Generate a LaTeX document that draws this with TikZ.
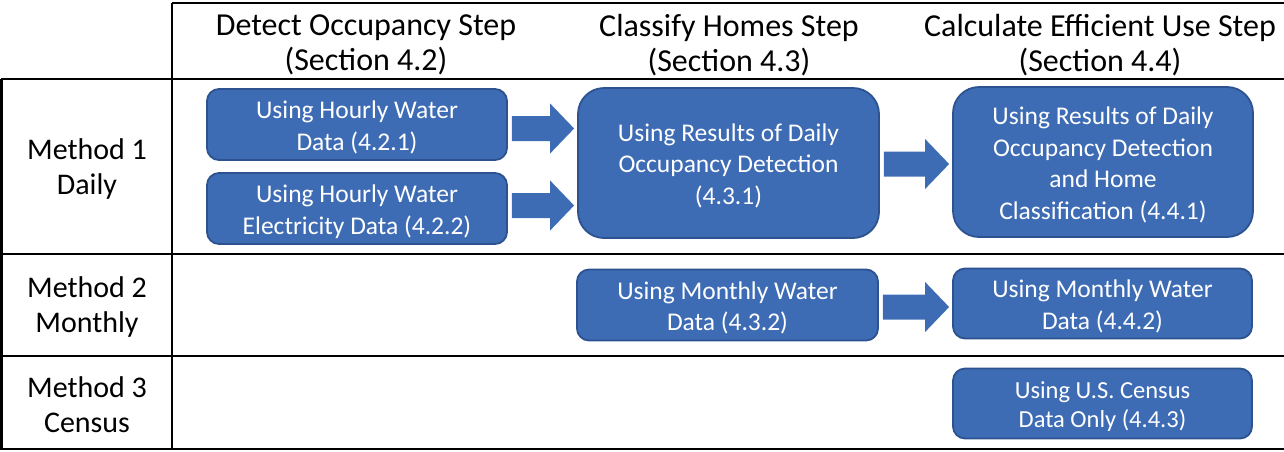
\documentclass[tikz,border=0pt]{standalone}
\usepackage{fontspec}
\setmainfont{Carlito}
\usetikzlibrary{calc}
\definecolor{boxfill}{HTML}{3D6CB5}
\definecolor{boxline}{HTML}{2C5290}
\newcommand\lowtext[1]{\raisebox{-3.5pt}[\height][\depth]{\begin{tabular}{@{}c@{}}#1\end{tabular}}}
\tikzset{
  grid/.style={line width=2.6pt, black},
  box/.style={draw=boxline, line width=1.8pt, fill=boxfill, text=white, align=center,
    rounded corners=12pt, inner sep=0pt, font=\fontsize{25.5}{31.5}\selectfont},
  bigbox/.style={box, rounded corners=26pt},
  head/.style={align=center, font=\fontsize{32}{35}\selectfont},
  rowlab/.style={align=center, font=\fontsize{30}{35}\selectfont},
  arrowfill/.style={fill=boxfill}
}
\newcommand\blockarrow[3]{%
  \fill[arrowfill] let \p1=(#1.east), \p2=(#2.west) in
    ({\x1+4pt},{\y1-(#3)+12.5pt}) -- ({\x2-27pt},{\y1-(#3)+12.5pt}) --
    ({\x2-27pt},{\y1-(#3)+25pt}) -- ({\x2-3pt},{\y1-(#3)}) --
    ({\x2-27pt},{\y1-(#3)-25pt}) -- ({\x2-27pt},{\y1-(#3)-12.5pt}) --
    ({\x1+4pt},{\y1-(#3)-12.5pt}) -- cycle;}
\begin{document}
\begin{tikzpicture}[x=1pt,y=-1pt]
\useasboundingbox (0,0) rectangle (1284,451);
% table lines
\draw[grid] (172,3) -- (1284,3);
\draw[grid] (172,3) -- (172,449);
\draw[grid] (1.3,79) -- (1284,79);
\draw[grid] (1.3,254) -- (1284,254);
\draw[grid] (1.3,356) -- (1284,356);
\draw[grid] (0,449) -- (1284,449);
\draw[grid] (1.3,79) -- (1.3,449);
% headers
\node[head] (h1) at (366,45) {Detect Occupancy Step\\(Section 4.2)};
\node[head] (h2) at (729,45) {Classify Homes Step\\(Section 4.3)};
\node[head] (h3) at (1100,45) {Calculate Efficient Use Step\\(Section 4.4)};
% row labels
\node[rowlab] (r1) at (87,169) {Method 1\\Daily};
\node[rowlab] (r2) at (87,307) {Method 2\\Monthly};
\node[rowlab] (r3) at (87,405) {Method 3\\Census};
% boxes
\node[box, minimum width=300pt, minimum height=71pt] (A) at (357,124.5) {\lowtext{Using Hourly Water\\Data (4.2.1)}};
\node[box, minimum width=300pt, minimum height=71pt] (B) at (357,208.5) {\lowtext{Using Hourly Water\\Electricity Data (4.2.2)}};
\node[bigbox, minimum width=301pt, minimum height=150pt] (C) at (728.5,163) {\lowtext{Using Results of Daily\\Occupancy Detection\\(4.3.1)}};
\node[bigbox, minimum width=300pt, minimum height=150pt] (D) at (1103,162) {\lowtext{Using Results of Daily\\Occupancy Detection\\and Home\\Classification (4.4.1)}};
\node[box, minimum width=301pt, minimum height=71pt] (E) at (727.5,305) {\lowtext{Using Monthly Water\\Data (4.3.2)}};
\node[box, minimum width=299pt, minimum height=70pt] (F) at (1102.5,303.5) {\lowtext{Using Monthly Water\\Data (4.4.2)}};
\node[box, minimum width=299pt, minimum height=70pt, font=\fontsize{24.5}{29}\selectfont] (G) at (1102.5,403.5) {\lowtext{Using U.S. Census\\Data Only (4.4.3)}};
% block arrows
\blockarrow{A}{C}{4pt}
\blockarrow{B}{C}{-3pt}
\blockarrow{C}{D}{1pt}
\blockarrow{E}{F}{2pt}
\end{tikzpicture}
\end{document}
